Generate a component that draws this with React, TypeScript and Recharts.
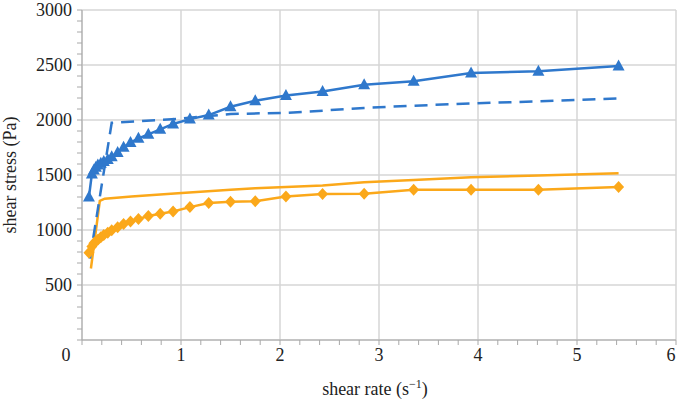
import { LineChart, Line, XAxis, YAxis, CartesianGrid } from 'recharts';

// shear rates of the measured points (s^-1)
const rateMeasured = [
  0.07, 0.1, 0.12, 0.14, 0.16, 0.19, 0.22, 0.26, 0.3, 0.36, 0.42, 0.49, 0.57, 0.67,
  0.79, 0.92, 1.09, 1.28, 1.5, 1.75, 2.06, 2.43, 2.85, 3.35, 3.93, 4.61, 5.42,
];
const stressTriangles = [
  1300, 1510, 1545, 1570, 1590, 1606, 1622, 1642, 1667, 1705, 1752, 1795, 1833, 1870,
  1915, 1964, 2008, 2045, 2120, 2175, 2222, 2259, 2320, 2353, 2427, 2443, 2492,
];
const stressDiamonds = [
  794, 850, 880, 898, 912, 935, 955, 975, 998, 1026, 1055, 1078, 1100, 1127,
  1147, 1168, 1208, 1246, 1256, 1262, 1305, 1328, 1330, 1365, 1365, 1365, 1390,
];

// model curves
const rateBlueDashed = [0.08, 0.3, 0.97, 1.5, 2.06, 2.43, 2.85, 3.35, 3.93, 4.61, 5.42];
const stressBlueDashed = [740, 1975, 2010, 2055, 2065, 2085, 2110, 2130, 2150, 2170, 2195];
const rateOrangeLine = [0.09, 0.18, 0.23, 0.5, 0.97, 1.5, 1.75, 2.06, 2.43, 2.85, 3.35, 3.93, 4.61, 5.42];
const stressOrangeLine = [650, 1265, 1285, 1305, 1335, 1365, 1380, 1390, 1405, 1435, 1455, 1480, 1495, 1515];

const xTicks = Array.from({ length: 31 }, (_, i) => Math.round(i * 2) / 10);
const yTicks = Array.from({ length: 31 }, (_, i) => i * 100);
const xGrid = [0, 1, 2, 3, 4, 5, 6];
const yGrid = [0, 500, 1000, 1500, 2000, 2500, 3000];

const zip = (xs: number[], ys: number[]) => xs.map((x, i) => ({ x, y: ys[i] }));

const BLUE = '#2f78cc';
const ORANGE = '#fba81a';
const FONT = '"Liberation Serif", "Times New Roman", serif';

const Triangle = (props: any) => {
  const { cx, cy, index } = props;
  if (cx == null || cy == null) return <g key={index} />;
  return (
    <polygon
      key={index}
      points={`${cx},${cy - 6.5} ${cx + 6},${cy + 4.5} ${cx - 6},${cy + 4.5}`}
      fill={BLUE}
    />
  );
};

const Diamond = (props: any) => {
  const { cx, cy, index } = props;
  if (cx == null || cy == null) return <g key={index} />;
  return (
    <polygon
      key={index}
      points={`${cx},${cy - 6} ${cx + 5.5},${cy} ${cx},${cy + 6} ${cx - 5.5},${cy}`}
      fill={ORANGE}
    />
  );
};

const XTick = (props: any) => {
  const { x, y, payload } = props;
  const v = payload.value;
  if (Math.abs(v - Math.round(v)) > 1e-6) return <g />;
  const shift = v === 0 ? -16 : v === 6 ? -5 : 0;
  return (
    <text x={x + shift} y={y + 14} textAnchor="middle" fontFamily={FONT} fontSize={18} fill="#222">
      {v}
    </text>
  );
};

const YTick = (props: any) => {
  const { x, y, payload } = props;
  const v = payload.value;
  if (v === 0 || v % 500 !== 0) return <g />;
  return (
    <text x={x - 3} y={y + 6} textAnchor="end" fontFamily={FONT} fontSize={18} fill="#222">
      {v}
    </text>
  );
};

export default function App() {
  return (
    <div style={{ position: 'absolute', left: 0, top: 0, background: '#fff' }}>
      <LineChart width={677} height={401} margin={{ top: 10, right: 1, bottom: 0, left: 0 }}>
        <CartesianGrid
          horizontalValues={yGrid}
          verticalValues={xGrid}
          stroke="#d6d6d6"
          strokeWidth={1.5}
        />
        <XAxis
          type="number"
          dataKey="x"
          domain={[0, 6]}
          ticks={xTicks}
          interval={0}
          height={61}
          tick={<XTick />}
          tickSize={5}
          stroke="#a8a8a8"
          tickLine={{ stroke: '#a8a8a8' }}
          allowDataOverflow
          label={{
            position: 'insideBottom',
            content: (p: any) => {
              const vb = p.viewBox;
              const cx = vb.x + vb.width / 2 - 4;
              return (
                <text x={cx} y={vb.y + vb.height - 6} textAnchor="middle" fontFamily={FONT} fontSize={18} fill="#222">
                  shear rate (s
                  <tspan dy={-7} fontSize={12}>−1</tspan>
                  <tspan dy={7}>)</tspan>
                </text>
              );
            },
          }}
        />
        <YAxis
          type="number"
          domain={[0, 3000]}
          ticks={yTicks}
          interval={0}
          width={82}
          tick={<YTick />}
          tickSize={5}
          stroke="#a8a8a8"
          tickLine={{ stroke: '#a8a8a8' }}
          allowDataOverflow
          label={{
            value: 'shear stress (Pa)',
            angle: -90,
            position: 'insideLeft',
            offset: 10,
            style: { textAnchor: 'middle', fontFamily: FONT, fontSize: 18, fill: '#222' },
          }}
        />
        <Line
          data={zip(rateOrangeLine, stressOrangeLine)}
          dataKey="y"
          type="linear"
          stroke={ORANGE}
          strokeWidth={2.5}
          dot={false}
          isAnimationActive={false}
        />
        <Line
          data={zip(rateBlueDashed, stressBlueDashed)}
          dataKey="y"
          type="linear"
          stroke={BLUE}
          strokeWidth={2.5}
          strokeDasharray="13 8"
          dot={false}
          isAnimationActive={false}
        />
        <Line
          data={zip(rateMeasured, stressDiamonds)}
          dataKey="y"
          type="linear"
          stroke={ORANGE}
          strokeWidth={2.5}
          dot={<Diamond />}
          isAnimationActive={false}
        />
        <Line
          data={zip(rateMeasured, stressTriangles)}
          dataKey="y"
          type="linear"
          stroke={BLUE}
          strokeWidth={2.5}
          dot={<Triangle />}
          isAnimationActive={false}
        />
      </LineChart>
    </div>
  );
}
